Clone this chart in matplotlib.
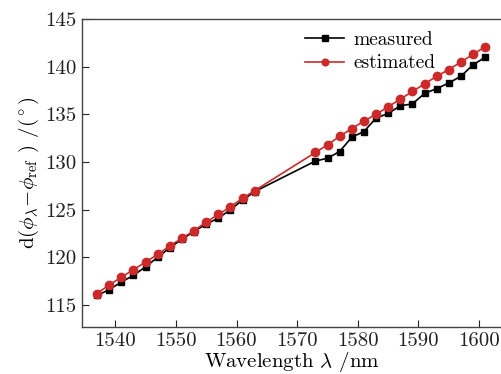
import matplotlib
matplotlib.use("Agg")
from matplotlib import pyplot as plt

plt.rcParams["font.family"] = ["cmr10", "DejaVu Serif"]
plt.rcParams["mathtext.fontset"] = "cm"
plt.rcParams["axes.unicode_minus"] = False

# wavelengths (nm)
wl = [1537, 1539, 1541, 1543, 1545, 1547, 1549, 1551, 1553, 1555, 1557, 1559, 1561, 1563,
      1573, 1575, 1577, 1579, 1581, 1583, 1585, 1587, 1589, 1591, 1593, 1595, 1597, 1599, 1601]

measured = [116.0, 116.6, 117.4, 118.1, 119.0, 120.0, 121.0, 121.9, 122.7, 123.5, 124.1, 125.0, 126.0, 126.9,
            130.1, 130.4, 131.1, 132.6, 133.2, 134.6, 135.1, 135.9, 136.1, 137.2, 137.7, 138.3, 139.0, 140.2, 141.0]

estimated = [116.2, 117.1, 117.9, 118.7, 119.5, 120.3, 121.2, 122.0, 122.8, 123.7, 124.5, 125.3, 126.2, 127.0,
             131.0, 131.8, 132.7, 133.5, 134.3, 135.0, 135.8, 136.6, 137.4, 138.2, 139.0, 139.7, 140.5, 141.3, 142.1]

fig = plt.figure(figsize=(5.02, 3.74), dpi=100)
ax = fig.add_axes([0.163, 0.126, 0.835, 0.823])

ax.plot(wl, measured, color="black", marker="s", markersize=5, linewidth=1.2, label="measured")
ax.plot(wl, estimated, color="#cc2a2a", marker="o", markersize=6, linewidth=1.2, label="estimated")

ax.set_xlim(1534.5, 1603.6)
ax.set_ylim(112.7, 145)
ax.set_xticks([1540, 1550, 1560, 1570, 1580, 1590, 1600])
ax.set_yticks([115, 120, 125, 130, 135, 140, 145])
ax.tick_params(direction="in", length=5, labelsize=15, colors="#222222", pad=4)

for s in ["left", "bottom", "top"]:
    ax.spines[s].set_color("#444444")
    ax.spines[s].set_linewidth(1.0)
ax.spines["right"].set_visible(False)

ax.set_xlabel(r"Wavelength $\lambda$ /nm", fontsize=15, labelpad=0)
ax.set_ylabel(r"d($\phi_\lambda\!-\!\phi_{\mathrm{ref}}$ ) /($^\circ$)", fontsize=15, labelpad=3)

ax.legend(loc="upper left", bbox_to_anchor=(0.505, 1.0), frameon=False, fontsize=14,
          handlelength=2.0, handletextpad=0.5, borderaxespad=0.2, labelspacing=0.3,
          markerscale=0.8)

fig.savefig("out.png", dpi=100)
